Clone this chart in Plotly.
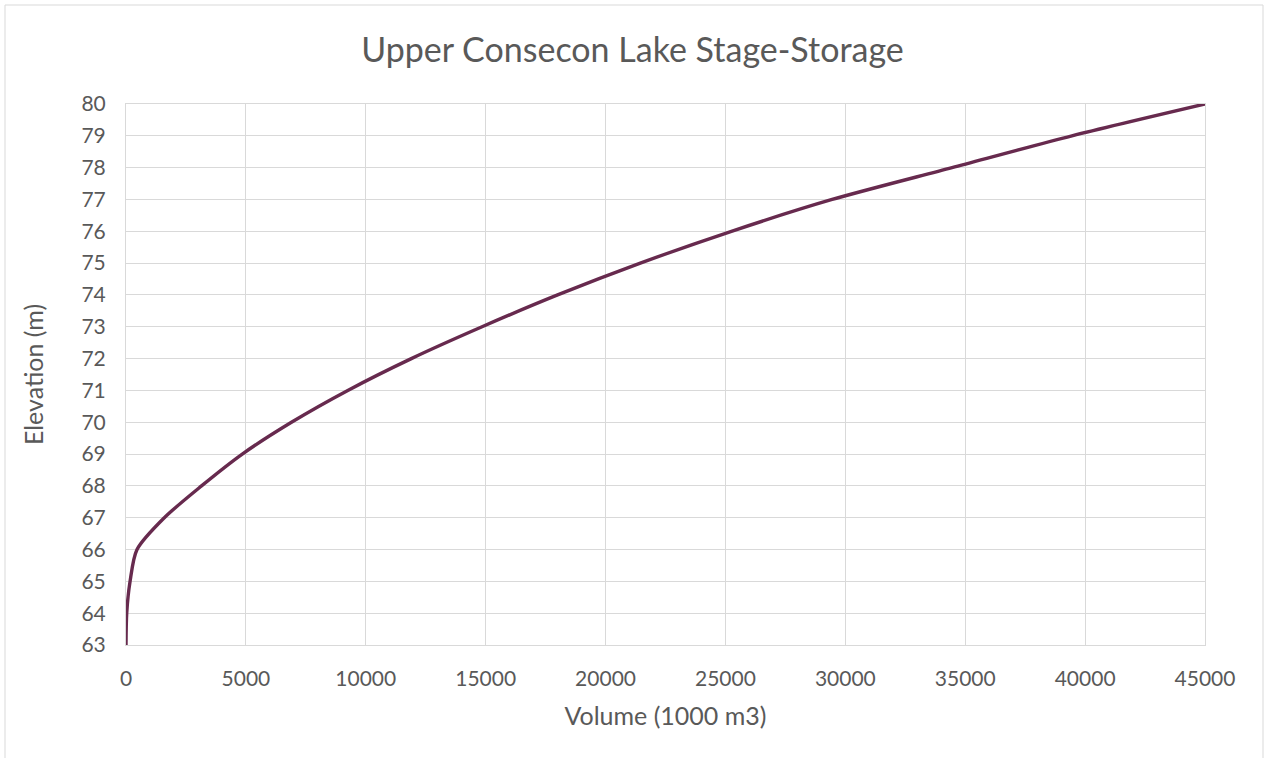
import plotly.graph_objects as go

volume = [0, 30, 170, 460, 1600, 3150, 4850, 6900, 9250, 11900, 14850,
          18000, 21450, 25250, 29450, 34450, 39450, 45000]
elevation = [63, 64, 65, 66, 67, 68, 69, 70, 71, 72, 73,
             74, 75, 76, 77, 78, 79, 80]

x_ticks = list(range(0, 45001, 5000))
y_ticks = list(range(63, 81))

FONT = "Lato, 'Open Sans', sans-serif"
GRAY = "#595959"
GRID = "#d9d9d9"

fig = go.Figure()
fig.add_trace(go.Scatter(x=volume, y=elevation, mode="lines",
                         line=dict(color="#672a4e", width=3.4, shape="spline", smoothing=0.8),
                         hoverinfo="x+y", showlegend=False))

fig.update_layout(
    width=1265, height=758,
    margin=dict(l=126, r=60, t=104, b=113),
    paper_bgcolor="white", plot_bgcolor="white",
    title=dict(text="Upper Consecon Lake Stage-Storage", x=0.5, xanchor="center",
               y=1 - 50 / 758, yanchor="middle",
               font=dict(family=FONT, size=34, color=GRAY)),
    font=dict(family=FONT, color=GRAY, size=21),
    xaxis=dict(range=[0, 45000], tickvals=x_ticks, ticktext=[str(v) for v in x_ticks],
               showgrid=True, gridcolor=GRID, gridwidth=1,
               showline=True, linecolor=GRID, linewidth=1, mirror=True,
               zeroline=False, ticks="", ticklen=0, ticklabelstandoff=15,
               tickfont=dict(family=FONT, size=21, color=GRAY),
               title=dict(text="Volume (1000 m3)", standoff=18,
                          font=dict(family=FONT, size=25, color=GRAY))),
    yaxis=dict(range=[63, 80], tickvals=y_ticks, ticktext=[str(v) for v in y_ticks],
               showgrid=True, gridcolor=GRID, gridwidth=1,
               showline=True, linecolor=GRID, linewidth=1, mirror=True,
               zeroline=False, ticks="", ticklen=0, ticklabelstandoff=15,
               tickfont=dict(family=FONT, size=21, color=GRAY),
               title=dict(text="Elevation (m)", standoff=30,
                          font=dict(family=FONT, size=25, color=GRAY))),
)

# outer chart-area border
pw, ph = 1265 - 126 - 60, 758 - 104 - 113
fig.add_shape(type="rect", xref="paper", yref="paper",
              x0=(5 - 126) / pw, x1=(1263 - 126) / pw,
              y0=(645 - 770) / ph, y1=(645 - 5) / ph,
              line=dict(color=GRID, width=1), fillcolor="rgba(0,0,0,0)", layer="below")

fig.write_html("out.html", config={"displayModeBar": False},
               post_script="document.body.style.margin='0';")
